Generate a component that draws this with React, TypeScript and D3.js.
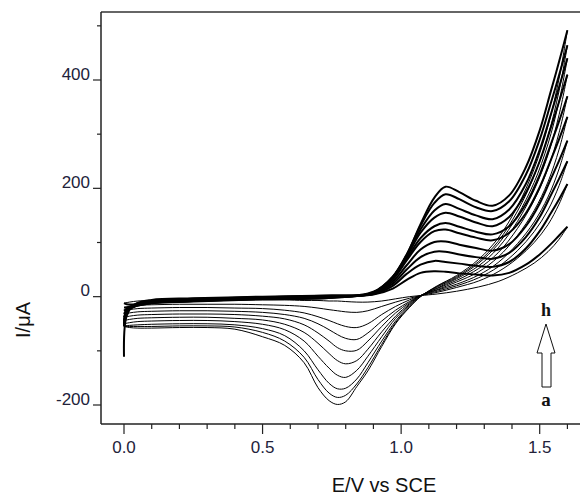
import React from 'react';
import * as d3 from 'd3';

// potential grids (V vs SCE) for the anodic (forward) and cathodic (reverse) sweeps
const forwardE = [0, 0.01, 0.04, 0.1, 0.25, 0.5, 0.75, 0.9, 0.97, 1.02, 1.07, 1.12, 1.16, 1.21, 1.27, 1.33, 1.39, 1.45, 1.5, 1.54, 1.57, 1.6];
const reverseE = [1.6, 1.57, 1.53, 1.48, 1.42, 1.35, 1.28, 1.2, 1.13, 1.07, 1.03, 0.98, 0.93, 0.88, 0.84, 0.8, 0.77, 0.74, 0.7, 0.65, 0.58, 0.5, 0.4, 0.3, 0.2, 0.1, 0.05, 0.02, 0];

// current (µA), one row per scan, first to last
const forwardI = [
    [-111, -35, -14, -6, -3, 0, 2, 4, 15, 31, 44, 47, 46, 43, 41, 39, 44, 59, 78, 97, 113, 129],
    [-12, -14, -14, -7, -4, -1, 2, 5, 20, 42, 59, 66, 64, 61, 57, 55, 64, 89, 121, 154, 180, 208],
    [-20, -20, -15, -8, -5, -1, 1, 5, 24, 50, 73, 83, 83, 78, 73, 70, 81, 110, 147, 187, 218, 250],
    [-26, -22, -15, -9, -5, -2, 1, 6, 28, 58, 87, 101, 102, 96, 90, 85, 97, 130, 172, 217, 251, 288],
    [-32, -24, -16, -10, -6, -2, 0, 6, 32, 67, 101, 121, 124, 117, 109, 104, 118, 154, 202, 252, 291, 332],
    [-38, -25, -16, -10, -7, -3, 0, 7, 33, 70, 108, 130, 136, 129, 120, 115, 130, 171, 225, 281, 324, 370],
    [-44, -26, -17, -11, -7, -3, -1, 7, 36, 74, 118, 146, 155, 148, 137, 130, 147, 192, 250, 312, 360, 410],
    [-50, -27, -17, -11, -8, -4, -1, 8, 36, 76, 124, 159, 171, 162, 150, 143, 161, 208, 271, 336, 387, 440],
    [-54, -27, -18, -12, -8, -4, -2, 8, 37, 78, 131, 173, 189, 180, 165, 158, 176, 225, 290, 357, 409, 464],
    [-55, -27, -18, -12, -9, -5, -2, 9, 37, 77, 134, 183, 203, 193, 177, 168, 187, 239, 307, 379, 434, 492],
];

const reverseI = [
    [129, 106, 83, 62, 44, 28, 18, 10, 5, 2, 0, -4, -8, -10, -10, -9, -8, -8, -7, -7, -6, -6, -6, -6, -6, -7, -8, -10, -12],
    [208, 171, 133, 100, 71, 46, 29, 17, 8, 2, -3, -10, -18, -26, -29, -28, -26, -24, -21, -18, -16, -15, -14, -14, -14, -15, -16, -18, -20],
    [250, 205, 160, 120, 85, 55, 35, 20, 10, 2, -6, -18, -33, -50, -57, -55, -50, -44, -37, -30, -25, -22, -21, -20, -20, -21, -22, -24, -26],
    [288, 236, 184, 138, 98, 63, 40, 23, 12, 2, -9, -25, -45, -67, -79, -77, -70, -61, -50, -40, -33, -29, -27, -26, -26, -27, -28, -30, -32],
    [332, 272, 212, 159, 113, 73, 46, 27, 13, 2, -11, -30, -55, -82, -99, -100, -94, -82, -67, -52, -41, -36, -33, -32, -32, -33, -34, -36, -38],
    [370, 303, 237, 178, 126, 81, 52, 30, 15, 2, -13, -36, -65, -97, -118, -124, -118, -105, -86, -66, -51, -43, -40, -38, -38, -39, -40, -42, -44],
    [410, 336, 262, 197, 139, 90, 57, 33, 16, 1, -15, -40, -74, -110, -136, -149, -145, -132, -110, -82, -61, -51, -46, -44, -44, -45, -46, -48, -50],
    [440, 361, 282, 211, 150, 97, 62, 35, 18, 1, -17, -45, -82, -122, -152, -169, -170, -160, -135, -100, -72, -59, -52, -50, -50, -51, -52, -53, -54],
    [464, 380, 297, 223, 158, 102, 65, 37, 19, 0, -19, -48, -88, -131, -161, -182, -186, -178, -153, -112, -82, -66, -56, -54, -54, -55, -55, -55, -55],
    [492, 403, 315, 236, 167, 108, 69, 39, 20, 0, -20, -50, -92, -137, -166, -194, -199, -192, -168, -122, -90, -74, -60, -57, -57, -58, -58, -57, -55],
];

const xMajorTicks = [0, 0.5, 1.0, 1.5];
const xMinorTicks = [0.1, 0.2, 0.3, 0.4, 0.6, 0.7, 0.8, 0.9, 1.1, 1.2, 1.3, 1.4, 1.6];
const yMajorTicks = [-200, 0, 200, 400];
const yMinorTicks = [-100, 100, 300, 500];

const W = 580, H = 497;
const left = 101, top = 12, bottom = 424;

const x = d3.scaleLinear().domain([0, 1.5]).range([124, 539.7]);
const y = d3.scaleLinear().domain([-200, 400]).range([405, 80]);

const line = d3.line<[number, number]>()
    .x(d => x(d[0]))
    .y(d => y(d[1]))
    .curve(d3.curveCatmullRom.alpha(0.5));

const tickFont = '"Liberation Sans Narrow", "Arial Narrow", "Liberation Sans", sans-serif';
const tickColor = '#22223a';

export default function App() {
    return (
        <svg width={W} height={H} style={{position: 'absolute', left: 0, top: 0, background: '#fff'}}>
            {/* frame */}
            <line x1={left} y1={top} x2={W} y2={top} stroke="#333" strokeWidth={1.5}/>
            <line x1={left} y1={top} x2={left} y2={bottom} stroke="#222" strokeWidth={1.5}/>
            <line x1={left} y1={bottom} x2={W} y2={bottom} stroke="#222" strokeWidth={1.5}/>

            {/* y ticks */}
            {yMajorTicks.map(v => (
                <g key={'ym' + v}>
                    <line x1={left - 8} x2={left} y1={y(v)} y2={y(v)} stroke="#222" strokeWidth={1.2}/>
                    <text x={90} y={y(v) - 0.5} textAnchor="end" fontFamily={tickFont} fontSize={17} fill={tickColor}>{v}</text>
                </g>
            ))}
            {yMinorTicks.map(v => (
                <line key={'yn' + v} x1={left - 4} x2={left} y1={y(v)} y2={y(v)} stroke="#222" strokeWidth={1.2}/>
            ))}

            {/* x ticks */}
            {xMajorTicks.map(v => (
                <g key={'xm' + v}>
                    <line x1={x(v)} x2={x(v)} y1={bottom} y2={bottom + 10} stroke="#222" strokeWidth={1.2}/>
                    <text x={x(v)} y={453} textAnchor="middle" fontFamily={tickFont} fontSize={17} fill={tickColor}>{v.toFixed(1)}</text>
                </g>
            ))}
            {xMinorTicks.map(v => (
                <line key={'xn' + v} x1={x(v)} x2={x(v)} y1={bottom} y2={bottom + 5} stroke="#222" strokeWidth={1.2}/>
            ))}

            {/* axis titles */}
            <text x={384} y={492} textAnchor="middle" fontFamily='"Liberation Sans", Arial, sans-serif' fontSize={20} fill="#111">E/V vs SCE</text>
            <text transform="translate(30,320) rotate(-90)" textAnchor="middle" fontFamily='"Liberation Sans", Arial, sans-serif' fontSize={20} fill="#111">I/μA</text>

            {/* voltammograms */}
            <g fill="none" stroke="#000" strokeLinejoin="round">
                {reverseI.map((row, i) => (
                    <path key={'r' + i} d={line(row.map((v, j) => [reverseE[j], v] as [number, number])) || ''} strokeWidth={1}/>
                ))}
                {forwardI.map((row, i) => (
                    <path key={'f' + i} d={line(row.map((v, j) => [forwardE[j], v] as [number, number])) || ''} strokeWidth={2}/>
                ))}
            </g>

            {/* scan order arrow */}
            <text x={546} y={316} textAnchor="middle" fontFamily='"Liberation Serif", "Times New Roman", serif' fontWeight="bold" fontSize={18} fill="#111">h</text>
            <path d="M546,324 L555,353 L551,353 L551,387 L542,387 L542,353 L537,353 Z" fill="#fff" stroke="#111" strokeWidth={1}/>
            <text x={546} y={406} textAnchor="middle" fontFamily='"Liberation Serif", "Times New Roman", serif' fontWeight="bold" fontSize={19} fill="#111">a</text>
        </svg>
    );
}
